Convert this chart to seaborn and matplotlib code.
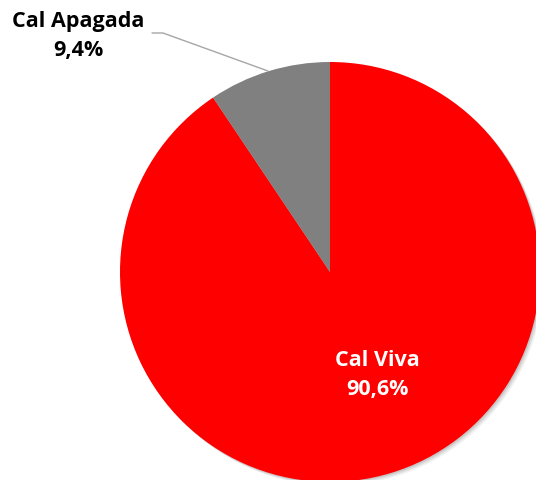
"""Pie chart: Cal Viva vs Cal Apagada."""
import matplotlib
matplotlib.use("Agg")
import matplotlib.pyplot as plt
from matplotlib.patches import Circle
import seaborn as sns

sns.set_theme(style="white")
plt.rcParams["font.family"] = ["Open Sans", "DejaVu Sans"]

categories = ["Cal Viva", "Cal Apagada"]
shares = [90.6, 9.4]
colors = ["#FF0000", "#808080"]

W, H = 536, 480
CX, CY, R = 330, 272, 210  # pie centre / radius in pixels

fig = plt.figure(figsize=(W / 100, H / 100), dpi=100)
ax = fig.add_axes([0, 0, 1, 1])

# soft drop shadow behind the pie
for off, a in [(0.018, 0.06), (0.012, 0.08), (0.006, 0.10)]:
    ax.add_patch(Circle((off, -off), 1, color="black", alpha=a, lw=0, zorder=0))

ax.pie(shares, colors=colors, startangle=90, counterclock=False,
       radius=1, center=(0, 0), wedgeprops={"linewidth": 0, "zorder": 1})
ax.set_xlim(-CX / R, (W - CX) / R)
ax.set_ylim(-(H - CY) / R, CY / R)
ax.set_aspect("equal")
ax.axis("off")


def fmt(v):
    return f"{v:.1f}".replace(".", ",") + "%"


def px(x, y):
    return (x - CX) / R, (CY - y) / R


ax.text(*px(377, 375), f"{categories[0]}\n{fmt(shares[0])}", color="white",
        fontsize=15.5, fontweight="bold", ha="center", va="center",
        linespacing=1.5, zorder=3)
ax.text(*px(78, 36), f"{categories[1]}\n{fmt(shares[1])}", color="black",
        fontsize=15.5, fontweight="bold", ha="center", va="center",
        linespacing=1.5, zorder=3)

lx, ly = zip(px(152, 33), px(163, 33), px(268, 71))
ax.plot(lx, ly, color="#A6A6A6", linewidth=1, zorder=2)

fig.savefig("out.png", dpi=100)
